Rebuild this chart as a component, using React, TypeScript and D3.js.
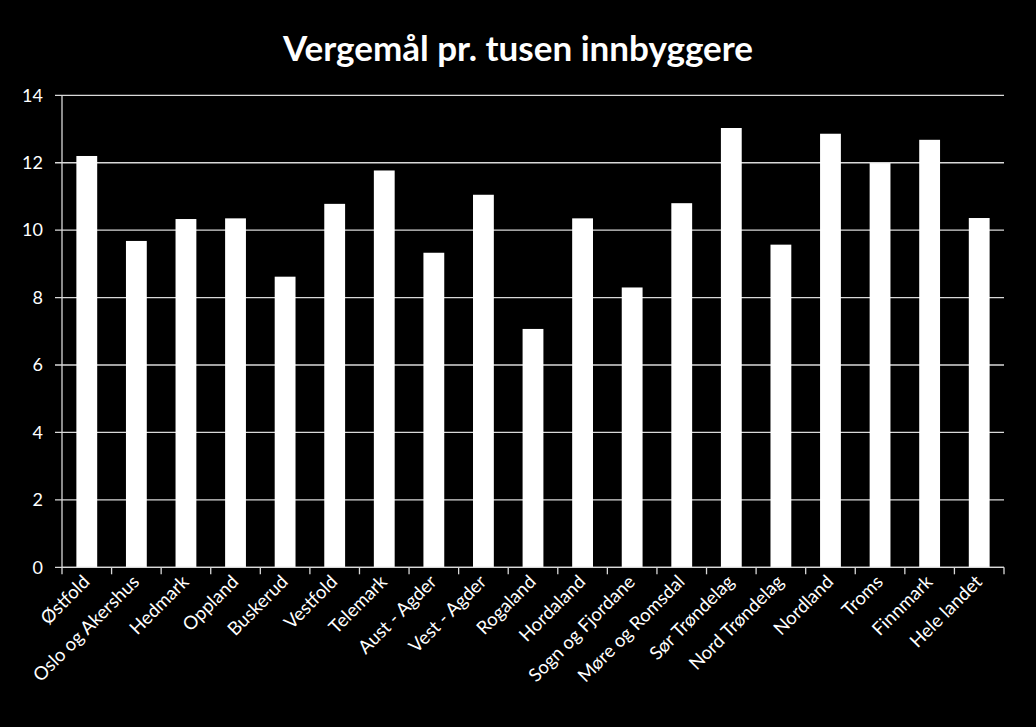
import React from "react";
import * as d3 from "d3";

const categories = [
  "Østfold", "Oslo og Akershus", "Hedmark", "Oppland", "Buskerud", "Vestfold",
  "Telemark", "Aust - Agder", "Vest - Agder", "Rogaland", "Hordaland",
  "Sogn og Fjordane", "Møre og Romsdal", "Sør Trøndelag", "Nord Trøndelag",
  "Nordland", "Troms", "Finnmark", "Hele landet",
];
const values = [
  12.2, 9.68, 10.33, 10.35, 8.62, 10.78, 11.77, 9.33, 11.05, 7.07, 10.35,
  8.3, 10.8, 13.03, 9.57, 12.86, 11.99, 12.68, 10.36,
];
const yTicks = [0, 2, 4, 6, 8, 10, 12, 14];
const title = "Vergemål pr. tusen innbyggere";

const W = 1036;
const H = 727;
const left = 62;
const right = 1004;
const top = 95.3;
const bottom = 567.3;
const font = "Lato, 'Open Sans', sans-serif";

export default function App() {
  const x = d3.scaleBand<string>().domain(categories).range([left, right]).paddingInner(0.58).paddingOuter(0.29);
  const xb = d3.scaleBand<string>().domain(categories).range([left, right]);
  const y = d3.scaleLinear().domain([0, 14]).range([bottom, top]);
  return (
    <svg width={W} height={H} style={{ display: "block", position: "absolute", left: 0, top: 0, background: "#000" }}>
      <rect x={0} y={0} width={W} height={H} fill="#000" />
      <text x={518} y={61} textAnchor="middle" fill="#fff" fontFamily={font} fontWeight={700} fontSize={35}>{title}</text>
      {yTicks.map((t) => (
        <g key={t}>
          <line x1={left - 7} x2={right} y1={y(t)} y2={y(t)} stroke="#d9d9d9" strokeWidth={1.3} />
          <text x={43} y={y(t)} dy="0.35em" textAnchor="end" fill="#fff" fontFamily={font} fontSize={18}>{t}</text>
        </g>
      ))}
      {categories.map((c, i) => (
        <rect key={c} x={x(c)} y={y(values[i])} width={x.bandwidth()} height={y(0) - y(values[i])} fill="#fff" />
      ))}
      <line x1={left} x2={left} y1={top} y2={bottom} stroke="#d9d9d9" strokeWidth={1.3} />
      <line x1={left} x2={right} y1={bottom} y2={bottom} stroke="#d9d9d9" strokeWidth={1.3} />
      {[...categories.map((c) => xb(c) as number), right].map((tx, i) => (
        <line key={i} x1={tx} x2={tx} y1={bottom} y2={bottom + 7} stroke="#d9d9d9" strokeWidth={1.3} />
      ))}
      {categories.map((c) => {
        const cx = (xb(c) as number) + xb.bandwidth() / 2 + 4;
        return (
          <text key={c} transform={`translate(${cx},${583}) rotate(-45)`} textAnchor="end" fill="#fff" fontFamily={font} fontSize={18.5}>{c}</text>
        );
      })}
    </svg>
  );
}
